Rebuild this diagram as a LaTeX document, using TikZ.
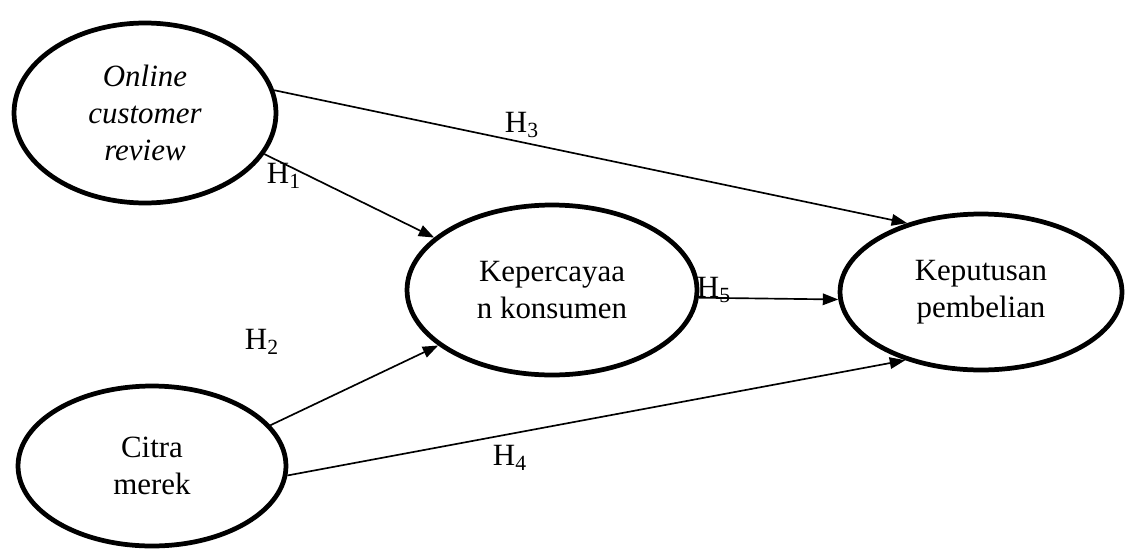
\documentclass[tikz,border=0pt]{standalone}
\usepackage{fontspec}
\setmainfont{Liberation Serif}
\usetikzlibrary{shapes.geometric,arrows.meta}

\begin{document}
\begin{tikzpicture}[x=0.02cm,y=-0.02cm,>={Triangle[length=0.31cm,width=0.23cm]},
  var/.style={draw,ellipse,line width=2.7pt,inner sep=0pt,align=center,
    font=\fontsize{17.6}{21}\selectfont},
  path/.style={->,line width=0.95pt},
  hyp/.style={inner sep=0pt,font=\fontsize{17.6}{21}\selectfont}]
\useasboundingbox (0,0) rectangle (1131,551);

\node[var,minimum width=5.24cm,minimum height=3.6cm] (ocr) at (145,113) {\itshape Online\\\itshape customer\\\itshape review};
\node[var,minimum width=5.8cm,minimum height=3.4cm] (kk) at (552,290) {Kepercayaa\\n konsumen};
\node[var,minimum width=5.64cm,minimum height=3.12cm] (kpt) at (981,292) {Keputusan\\pembelian};
\node[var,minimum width=5.36cm,minimum height=3.2cm] (cm) at (152,466) {Citra\\merek};

\draw[path] (ocr.341) -- (kk.156);
\draw[path] (cm.19) -- (kk.206);
\draw[path] (ocr.10) -- (kpt.137);
\draw[path] (cm.356) -- (kpt.222);
\draw[path] (kk.357) -- (kpt.183);

\node[hyp] (h1) at (284,176) {H\textsubscript{1}};
\node[hyp] (h2) at (262,342) {H\textsubscript{2}};
\node[hyp] (h3) at (522,125) {H\textsubscript{3}};
\node[hyp] (h4) at (510,458) {H\textsubscript{4}};
\node[hyp] (h5) at (714,290) {H\textsubscript{5}};
\end{tikzpicture}
\end{document}
